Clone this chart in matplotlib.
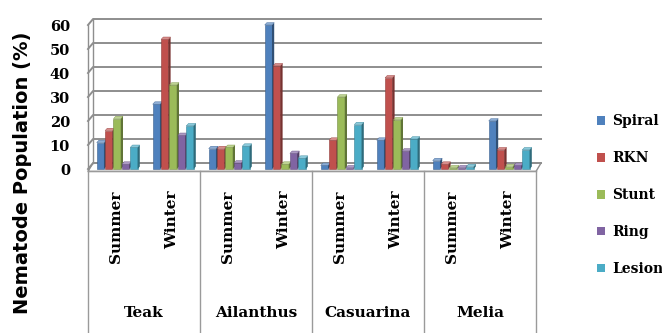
import numpy as np
import matplotlib.pyplot as plt
from matplotlib.patches import Polygon, Patch
from matplotlib.colors import to_rgb

species = ['Teak', 'Ailanthus', 'Casuarina', 'Melia']
seasons = ['Summer', 'Winter']
nematodes = ['Spiral', 'RKN', 'Stunt', 'Ring', 'Lesion']

# one value per species/season cluster: Teak S, Teak W, Ailanthus S, ...
spiral = [11, 27, 8.5, 60, 1.5, 12, 3.5, 20]
rkn = [16, 54, 8.5, 43, 12, 38, 2, 8]
stunt = [21, 35, 9, 2, 30, 20.5, 0.5, 1]
ring = [2, 14, 2.5, 6.5, 0.5, 7.5, 0.5, 1.5]
lesion = [9, 18, 9.5, 4.5, 18.5, 12.5, 1, 8]
yticks = [0, 10, 20, 30, 40, 50, 60]

colors = ['#4F81BD', '#C0504D', '#9BBB59', '#8064A2', '#4BACC6']
serif = dict(fontfamily='DejaVu Serif', fontweight='bold')


def shade(c, f):
    r = np.array(to_rgb(c))
    if f < 1:
        return tuple(r * f)
    return tuple(r + (1 - r) * (f - 1))


W, H = 662, 333
fig = plt.figure(figsize=(W / 100, H / 100), dpi=100)
ax = fig.add_axes([88 / W, 0, 448 / W, 1])
ax.set_xlim(-0.5, 7.5)
ax.set_ylim(-68.33, 70.42)
for s in ax.spines.values():
    s.set_visible(False)
ax.set_xticks([])
ax.set_yticks(yticks)
ax.set_yticklabels([str(t) for t in yticks], fontsize=10.5, **serif)
ax.tick_params(axis='y', length=0, pad=13)

# fake 3d walls: floor, left wall and back-wall gridlines
wdx, wdy = 0.09, 2.5
gc = '#8e8e8e'
floor = Polygon([(-0.5, -1), (7.5, -1), (7.5 + wdx, wdy), (-0.5 + wdx, wdy)],
                closed=True, facecolor='white', edgecolor=gc, lw=1.0,
                zorder=1, clip_on=False)
ax.add_patch(floor)
for g in yticks:
    ax.plot([-0.5, -0.5 + wdx, 7.5 + wdx], [g, g + wdy, g + wdy],
            color=gc, lw=1.4, zorder=1, clip_on=False)
ax.plot([-0.5, -0.5], [-1, 60], color=gc, lw=1.0, clip_on=False, zorder=1)
ax.plot([-0.5 + wdx] * 2, [wdy, 60 + wdy], color=gc, lw=1.0, clip_on=False, zorder=1)

# bars: front face from ax.bar, side and top as parallelograms
pitch, w = 0.15, 0.13
bdx, bdy = 0.04, 1.0
series = [spiral, rkn, stunt, ring, lesion]
xs = np.arange(len(spiral))
for j, (vals, col) in enumerate(zip(series, colors)):
    x0 = xs + 0.03 + (j - 2.5) * pitch
    ax.bar(x0, vals, width=w, align='edge', color=col,
           edgecolor=shade(col, 0.75), lw=0.4, zorder=3 + j)
    for x, v in zip(x0, vals):
        side = [(x + w, 0), (x + w + bdx, bdy), (x + w + bdx, v + bdy), (x + w, v)]
        top = [(x, v), (x + w, v), (x + w + bdx, v + bdy), (x + bdx, v + bdy)]
        ax.add_patch(Polygon(side, closed=True, facecolor=shade(col, 0.62),
                             edgecolor='none', zorder=3 + j))
        ax.add_patch(Polygon(top, closed=True, facecolor=shade(col, 1.35),
                             edgecolor=shade(col, 0.8), lw=0.3, zorder=3 + j))

# category table below the floor
tc = '#9a9a9a'
ax.plot([-0.5, 7.5], [-1, -1], color=tc, lw=1.0, clip_on=False, zorder=2)
for b in [-0.5, 1.5, 3.5, 5.5, 7.5]:
    ax.plot([b, b], [-1, -68.33], color=tc, lw=1.0, clip_on=False, zorder=2)
for i in xs:
    ax.text(i, -8.8, seasons[i % 2], rotation=90, ha='center', va='top',
            fontsize=11, **serif)
for k, name in enumerate(species):
    ax.text(2 * k + 0.5, -60, name, ha='center', va='center', fontsize=11, **serif)

ax.set_ylabel('Nematode Population (%)', fontfamily='DejaVu Sans',
              fontweight='bold', fontsize=14)
ax.yaxis.set_label_coords(-0.125, 0.482)

handles = [Patch(facecolor=c, edgecolor='none') for c in colors]
fig.legend(handles, nematodes, loc='center left',
           bbox_to_anchor=(590 / W, (H - 195) / H), frameon=False,
           prop=dict(family='DejaVu Serif', weight='bold', size=10),
           handlelength=0.6, handleheight=0.6, handletextpad=0.5,
           labelspacing=1.65, borderpad=0)

fig.savefig('out.png', dpi=100)
